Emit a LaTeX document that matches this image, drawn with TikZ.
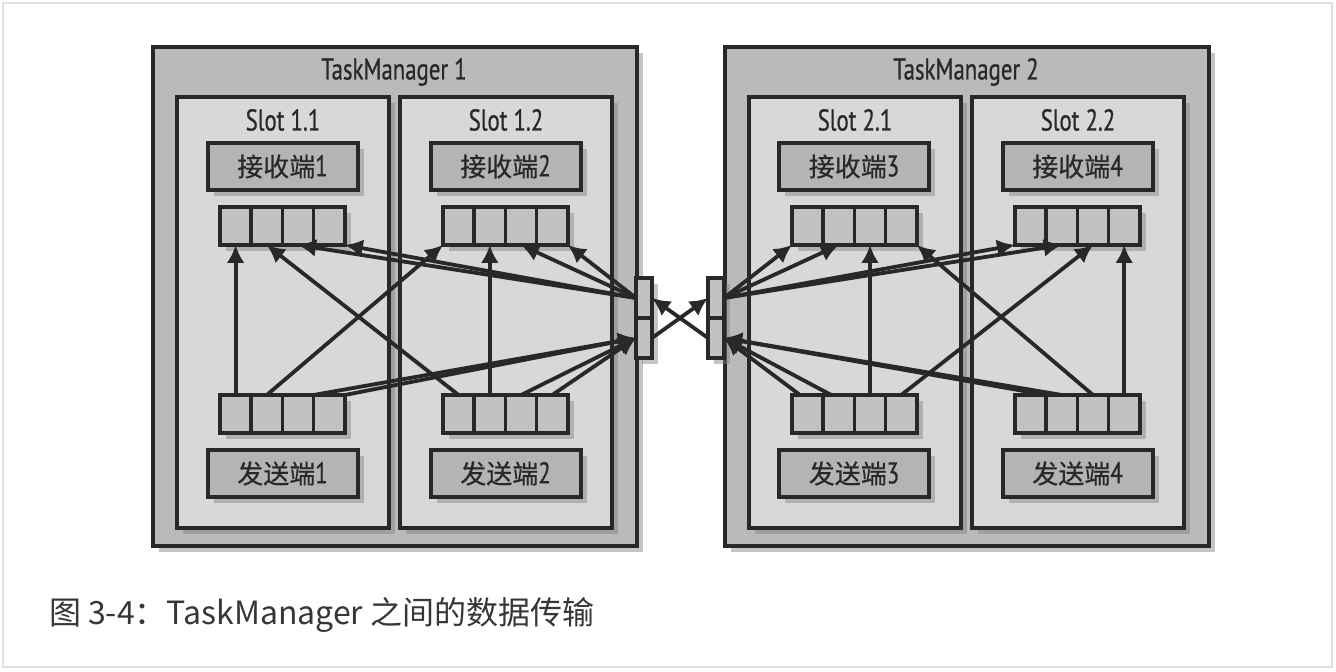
\documentclass[tikz,border=0pt]{standalone}
\usepackage{fontspec}
\setmainfont{Noto Sans CJK SC}
\newfontfamily\labfont[FakeStretch=0.76,FakeBold=0.6]{PT Sans}
\newfontfamily\cjk[FakeBold=0.5]{Noto Sans CJK SC}
\usetikzlibrary{positioning,shadows,arrows.meta}

\definecolor{ink}{RGB}{40,40,40}
\definecolor{tmgray}{RGB}{186,186,186}
\definecolor{slotgray}{RGB}{216,216,216}
\definecolor{boxgray}{RGB}{180,180,180}
\definecolor{cellgray}{RGB}{194,194,194}

\begin{document}
\begin{tikzpicture}[x=0.5pt, y=-0.5pt,
    every node/.style={text=ink},
    box/.style={draw=ink, line width=2pt, outer sep=0pt, inner sep=0pt, drop shadow={shadow xshift=3pt, shadow yshift=-3pt, opacity=0.45}},
    tmbox/.style={box, fill=tmgray, minimum width=242pt, minimum height=249.5pt},
    slotbox/.style={box, fill=slotgray, minimum width=106pt, minimum height=215.5pt},
    labbox/.style={box, fill=boxgray, minimum width=75pt, minimum height=23.5pt, font=\labfont\fontsize{15pt}{17pt}\selectfont},
    cell/.style={box, fill=cellgray, line width=1.8pt, minimum width=15.6pt, minimum height=19pt},
    port/.style={box, fill=cellgray, line width=1.8pt, minimum width=8pt, minimum height=20pt},
    title/.style={font=\labfont\fontsize{15pt}{17pt}\selectfont},
    arr/.style={draw=ink, line width=1.9pt, -{Latex[length=9pt,width=9pt]}}]
    \useasboundingbox (0,0) rectangle (1336,672);
    \draw[gray!25, line width=1pt, fill=white] (3,3) rectangle (1332,667);
    % task managers and slots
    \node[tmbox] (tm1) at (395,296.5) {};
    \node[tmbox] (tm2) at (967,296.5) {};
    \node[title] (tm1t) at (394,72) {TaskManager 1};
    \node[title] (tm2t) at (966,72) {TaskManager 2};
    \node[slotbox] (slot11) at (283,312.5) {};
    \node[slotbox] (slot12) at (506,312.5) {};
    \node[slotbox] (slot21) at (855,312.5) {};
    \node[slotbox] (slot22) at (1078,312.5) {};
    \node[title] (slot11t) at (283,120) {Slot 1.1};
    \node[title] (slot12t) at (506,120) {Slot 1.2};
    \node[title] (slot21t) at (855,120) {Slot 2.1};
    \node[title] (slot22t) at (1078,120) {Slot 2.2};
    % receivers and senders
    \node[labbox] (rec1) at (282.5,166.5) {{\cjk\fontsize{13pt}{15pt}\selectfont 接收端}1};
    \node[labbox] (rec2) at (505.5,166.5) {{\cjk\fontsize{13pt}{15pt}\selectfont 接收端}2};
    \node[labbox] (rec3) at (854,166.5) {{\cjk\fontsize{13pt}{15pt}\selectfont 接收端}3};
    \node[labbox] (rec4) at (1077.5,166.5) {{\cjk\fontsize{13pt}{15pt}\selectfont 接收端}4};
    \node[labbox] (snd1) at (282.5,473.5) {{\cjk\fontsize{13pt}{15pt}\selectfont 发送端}1};
    \node[labbox] (snd2) at (505.5,473.5) {{\cjk\fontsize{13pt}{15pt}\selectfont 发送端}2};
    \node[labbox] (snd3) at (854,473.5) {{\cjk\fontsize{13pt}{15pt}\selectfont 发送端}3};
    \node[labbox] (snd4) at (1077.5,473.5) {{\cjk\fontsize{13pt}{15pt}\selectfont 发送端}4};
    % buffers
    \node[cell] (r1c1) at (235.6,226) {}; \node[cell, right=0pt of r1c1] (r1c2) {}; \node[cell, right=0pt of r1c2] (r1c3) {}; \node[cell, right=0pt of r1c3] (r1c4) {};
    \node[cell] (r2c1) at (458.6,226) {}; \node[cell, right=0pt of r2c1] (r2c2) {}; \node[cell, right=0pt of r2c2] (r2c3) {}; \node[cell, right=0pt of r2c3] (r2c4) {};
    \node[cell] (r3c1) at (807.6,226) {}; \node[cell, right=0pt of r3c1] (r3c2) {}; \node[cell, right=0pt of r3c2] (r3c3) {}; \node[cell, right=0pt of r3c3] (r3c4) {};
    \node[cell] (r4c1) at (1030.6,226) {}; \node[cell, right=0pt of r4c1] (r4c2) {}; \node[cell, right=0pt of r4c2] (r4c3) {}; \node[cell, right=0pt of r4c3] (r4c4) {};
    \node[cell] (s1c1) at (235.6,414) {}; \node[cell, right=0pt of s1c1] (s1c2) {}; \node[cell, right=0pt of s1c2] (s1c3) {}; \node[cell, right=0pt of s1c3] (s1c4) {};
    \node[cell] (s2c1) at (458.6,414) {}; \node[cell, right=0pt of s2c1] (s2c2) {}; \node[cell, right=0pt of s2c2] (s2c3) {}; \node[cell, right=0pt of s2c3] (s2c4) {};
    \node[cell] (s3c1) at (807.6,414) {}; \node[cell, right=0pt of s3c1] (s3c2) {}; \node[cell, right=0pt of s3c2] (s3c3) {}; \node[cell, right=0pt of s3c3] (s3c4) {};
    \node[cell] (s4c1) at (1030.6,414) {}; \node[cell, right=0pt of s4c1] (s4c2) {}; \node[cell, right=0pt of s4c2] (s4c3) {}; \node[cell, right=0pt of s4c3] (s4c4) {};
    % network ports
    \node[port] (p1i) at (644,298) {};
    \node[port, below=0pt of p1i] (p1o) {};
    \node[port] (p2i) at (716,298) {};
    \node[port, below=0pt of p2i] (p2o) {};
    % inside TaskManager 1
    \draw[arr] (s1c1.north) -- (r1c1.south);
    \draw[arr] (s2c1.north) -- (r1c2.south);
    \draw[arr] (p1i.west) -- (r1c3.south);
    \draw[arr] (p1i.west) -- (r1c4.south east);
    \draw[arr] (s1c2.north) -- (r2c1.south west);
    \draw[arr] (s2c2.north) -- (r2c2.south);
    \draw[arr] (p1i.west) -- (r2c3.south);
    \draw[arr] (p1i.west) -- (r2c4.south east);
    \draw[arr] (s1c3.north east) -- (p1o.west);
    \draw[arr] (s1c4.north east) -- (p1o.west);
    \draw[arr] (s2c3.north) -- (p1o.west);
    \draw[arr] (s2c4.north) -- (p1o.west);
    % inside TaskManager 2
    \draw[arr] (p2i.east) -- (r3c1.south west);
    \draw[arr] (p2i.east) -- (r3c2.south);
    \draw[arr] (s3c3.north) -- (r3c3.south);
    \draw[arr] (s4c3.north) -- (r3c4.south east);
    \draw[arr] (p2i.east) -- (r4c1.south west);
    \draw[arr] (p2i.east) -- (r4c2.south);
    \draw[arr] (s3c4.north) -- (r4c3.south);
    \draw[arr] (s4c4.north) -- (r4c4.south);
    \draw[arr] ([xshift=4pt]s3c1.north west) -- (p2o.east);
    \draw[arr] ([xshift=4pt]s3c2.north west) -- (p2o.east);
    \draw[arr] (s4c1.north east) -- (p2o.east);
    \draw[arr] (s4c2.north) -- (p2o.east);
    % between the two
    \draw[arr] (p1o.east) -- (p2i.west);
    \draw[arr] (p2o.west) -- (p1i.east);
    \node[anchor=west, text={rgb,255:red,55;green,55;blue,55}, font=\fontsize{16pt}{19pt}\selectfont] (cap) at (42,615) {图 3-4：TaskManager 之间的数据传输};
\end{tikzpicture}
\end{document}
